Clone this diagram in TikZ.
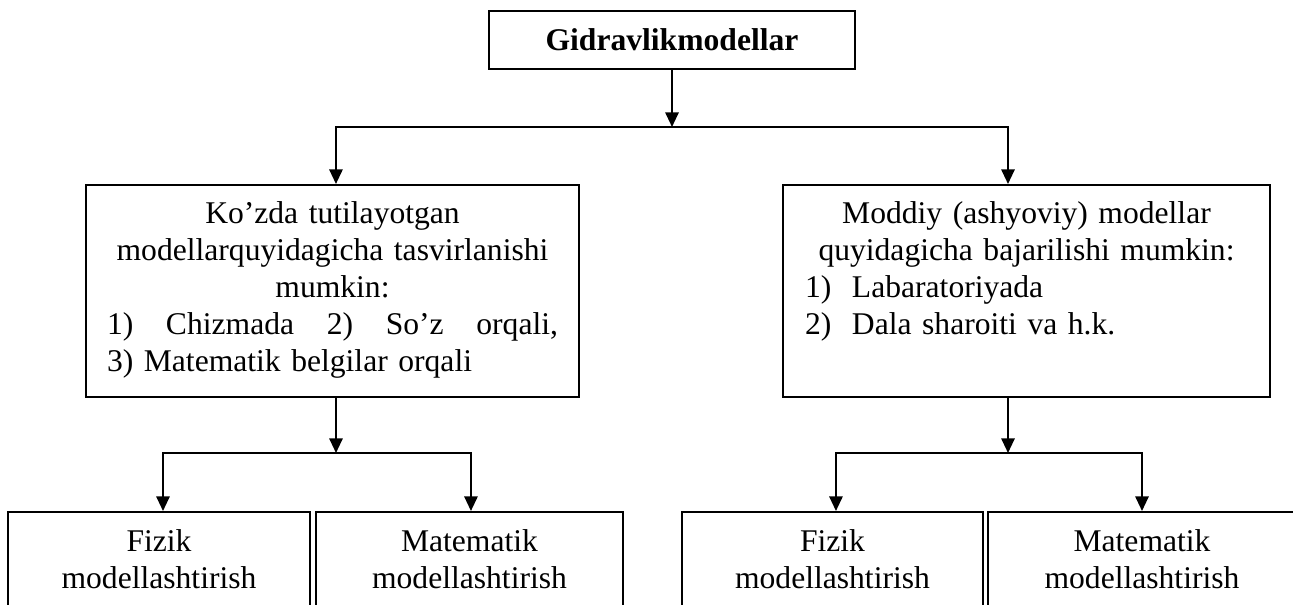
\documentclass[tikz,border=0pt]{standalone}
\usepackage{fontspec}
\setmainfont{Liberation Serif}
\usetikzlibrary{arrows.meta}
\tikzset{every picture/.style={line width=1.5pt}}
\tikzset{
  every node/.style={font=\fontsize{23.7}{27.75}\selectfont},
  blok/.style={draw, rectangle, anchor=north, align=center, text width=200pt, inner ysep=0pt, text height=30pt, text depth=112.5pt},
  strelka/.style={-{Triangle[length=11pt,width=10pt]}}
}

\begin{document}
\begin{tikzpicture}[x=0.75pt,y=0.75pt,yscale=-1,xscale=1]
\useasboundingbox (0,0) rectangle (1293,605);
\clip (0,0) rectangle (1293,605);

%Shape: Rectangle (top)
\node [draw, minimum width=274.5pt, minimum height=43.5pt, font=\fontsize{23.7}{27.75}\selectfont\bfseries] (gid) at (672,40) {Gidravlikmodellar};

%Shape: Rectangle (middle)
\node [blok, text width=338.25pt, inner xsep=15.75pt, text height=29.25pt, text depth=129.75pt] (lmid) at (332.5,184) {Ko’zda tutilayotgan\\ modellarquyidagicha tasvirlanishi\\ mumkin:\\ \makebox[\linewidth][l]{1)\hfill Chizmada\hfill 2)\hfill So’z\hfill orqali,}\\ \makebox[\linewidth][l]{3) Matematik belgilar orqali}};
\node [blok, text width=332.25pt, inner xsep=16.5pt, text height=29.25pt, text depth=129.75pt] (rmid) at (1026.5,184) {Moddiy (ashyoviy) modellar\\ quyidagicha bajarilishi mumkin:\\ \makebox[\linewidth][l]{\makebox[35.25pt][l]{1)}Labaratoriyada}\\ \makebox[\linewidth][l]{\makebox[35.25pt][l]{2)}Dala sharoiti va h.k.}};

%Shape: Rectangle (bottom)
\node [blok, minimum width=226.5pt] (fiz1) at (159,511) {Fizik\\ modellashtirish};
\node [blok, minimum width=230.25pt] (mat1) at (469.5,511) {Matematik\\ modellashtirish};
\node [blok, minimum width=225.75pt] (fiz2) at (832.5,511) {Fizik\\ modellashtirish};
\node [blok, minimum width=231pt] (mat2) at (1142,511) {Matematik\\ modellashtirish};

%Straight Lines
\coordinate (j1) at (672,127);
\coordinate (j2) at (336,453);
\coordinate (j3) at (1008,453);
\draw [strelka] (gid) -- (j1);
\draw [strelka] (j1) -| ([xshift=2.6pt]lmid.north);
\draw [strelka] (j1) -| ([xshift=-13.875pt]rmid.north);
\draw [strelka] (lmid.south -| j2) -- (j2);
\draw [strelka] (j2) -| ([xshift=3pt]fiz1.north);
\draw [strelka] (j2) -| ([xshift=1.1pt]mat1.north);
\draw [strelka] (rmid.south -| j3) -- (j3);
\draw [strelka] (j3) -| ([xshift=2.6pt]fiz2.north);
\draw [strelka] (j3) -| (mat2.north);
\end{tikzpicture}
\end{document}
